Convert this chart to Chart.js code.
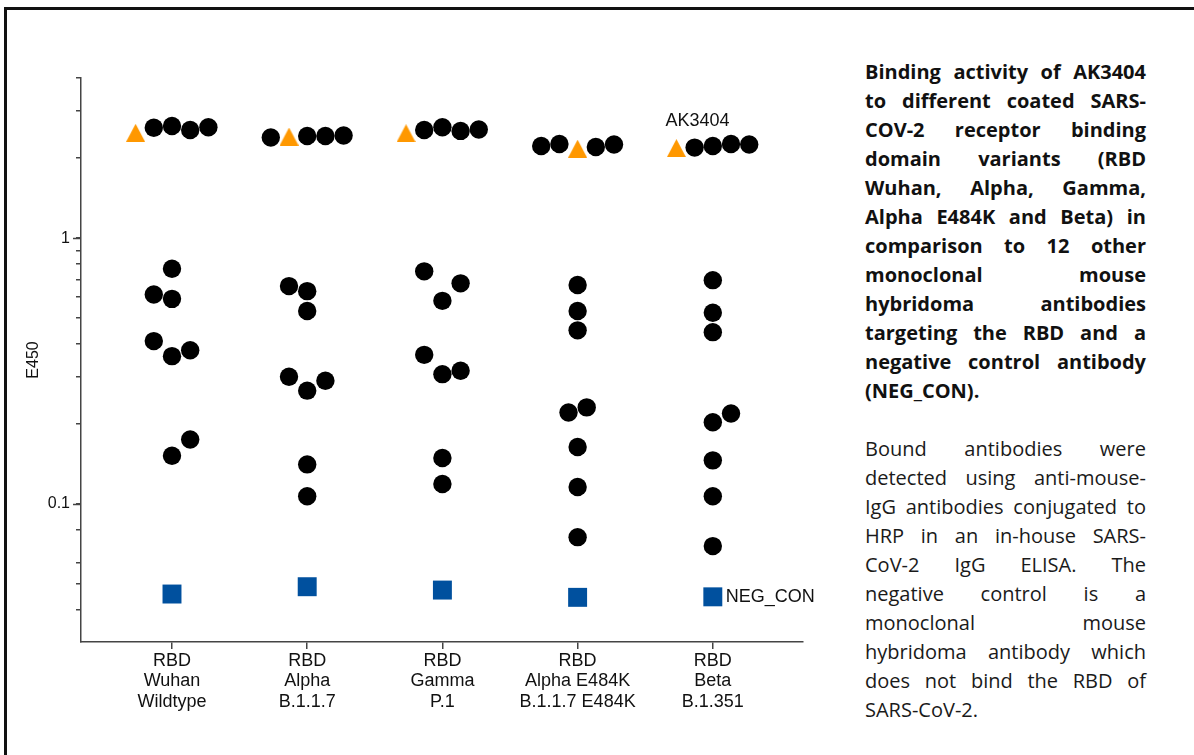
<!DOCTYPE html>
<html>
<head>
<meta charset="utf-8">
<script src="https://cdn.jsdelivr.net/npm/chart.js@4.4.1/dist/chart.umd.min.js"></script>
<style>
  html, body { margin: 0; padding: 0; background: #fff; overflow: hidden; }
  body { width: 1194px; height: 755px; position: relative; }
  #frame {
    position: absolute; left: 4px; top: 7px; right: -20px; bottom: -20px;
    border-top: 3px solid #111; border-left: 3px solid #111;
  }
  #plot { position: absolute; left: 0; top: 0; width: 830px; height: 755px; }
  #caption {
    position: absolute; left: 865px; top: 57px; width: 281px;
    font-family: "Open Sans", sans-serif; font-size: 20px; line-height: 29px;
    color: #111; text-align: justify;
  }
  #caption p { margin: 0; }
  #caption .lead { font-weight: 700; }
  #caption .note { margin-top: 29px; font-weight: 400; color: #1a1a1a; }
  #caption .nw { white-space: nowrap; }
</style>
</head>
<body>
<div id="frame"></div>
<div id="plot"><canvas id="chart" width="830" height="755"></canvas></div>
<div id="caption">
  <p class="lead">Binding activity of AK3404 to different coated SARS-COV-2 receptor binding domain variants (RBD Wuhan, Alpha, Gamma, Alpha E484K and Beta) in comparison to 12 other monoclonal mouse hybridoma antibodies targeting the RBD and a negative control antibody (NEG_CON).</p>
  <p class="note">Bound antibodies were detected using anti-mouse-IgG antibodies conjugated to HRP in an in-house SARS-<span class="nw">CoV-2</span> IgG ELISA. The <span class="nw">negative control</span> is a monoclonal mouse hybridoma antibody which does not bind the RBD of SARS-CoV-2.</p>
</div>
<script>
// categories (multi-line axis labels)
const CATEGORIES = [
  ["RBD", "Wuhan", "Wildtype"],
  ["RBD", "Alpha", "B.1.1.7"],
  ["RBD", "Gamma", "P.1"],
  ["RBD", "Alpha E484K", "B.1.1.7 E484K"],
  ["RBD", "Beta", "B.1.351"],
];

// E450 values
const AK3404   = [2.49, 2.41, 2.48, 2.17, 2.18];
const NEG_CON  = [0.0459, 0.0489, 0.0475, 0.0446, 0.0448];

// 12 other mAbs per RBD variant
const OTHER_WUHAN = [2.60, 2.64, 2.55, 2.61, 0.767, 0.614, 0.591, 0.410, 0.360, 0.379, 0.175, 0.152];
const OTHER_ALPHA = [2.39, 2.42, 2.42, 2.43, 0.660, 0.632, 0.532, 0.301, 0.267, 0.291, 0.141, 0.107];
const OTHER_GAMMA = [2.55, 2.61, 2.53, 2.56, 0.750, 0.676, 0.581, 0.364, 0.308, 0.317, 0.149, 0.119];
const OTHER_E484K = [2.22, 2.26, 2.20, 2.25, 0.666, 0.532, 0.450, 0.221, 0.231, 0.164, 0.116, 0.0751];
const OTHER_BETA  = [2.19, 2.22, 2.26, 2.25, 0.695, 0.524, 0.443, 0.203, 0.219, 0.146, 0.107, 0.0695];
const OTHER = [OTHER_WUHAN, OTHER_ALPHA, OTHER_GAMMA, OTHER_E484K, OTHER_BETA];

// swarm column of each point (in marker widths from the category centre)
const SLOT_AK3404  = [-2, -1, -2, 0, -2];
const SLOT_NEG_CON = [0, 0, 0, 0, 0];
const SLOT_OTHER = [
  [-1, 0, 1, 2,  0, -1, 0, -1, 0, 1, 1, 0],
  [-2, 0, 1, 2, -1,  0, 0, -1, 0, 1, 0, 0],
  [-1, 0, 1, 2, -1,  1, 0, -1, 0, 1, 0, 0],
  [-2, -1, 1, 2, 0,  0, 0, -0.5, 0.5, 0, 0, 0],
  [-1, 0, 1, 2,  0,  0, 0, 0, 1, 0, 0, 0],
];

// y ticks: only 1 and 0.1 are labelled
const Y_TICKS  = [4, 3, 2, 1, 0.9, 0.8, 0.7, 0.6, 0.5, 0.4, 0.3, 0.2, 0.1, 0.08, 0.06, 0.05, 0.04];
const Y_LABELS = { 1: "1", 0.1: "0.1" };

const SWARM_STEP = 0.1346;
const AXIS_COLOR = "#444";
const FONT = "'Liberation Sans', Arial, sans-serif";

const place = (vals, slots, cat) => vals.map((v, j) => ({ x: cat + slots[j] * SWARM_STEP, y: v }));

const otherPoints = OTHER.flatMap((vals, i) => place(vals, SLOT_OTHER[i], i));
const akPoints  = AK3404.map((v, i) => ({ x: i + SLOT_AK3404[i] * SWARM_STEP, y: v }));
const negPoints = NEG_CON.map((v, i) => ({ x: i + SLOT_NEG_CON[i] * SWARM_STEP, y: v }));

function triangleImage(w, h, color) {
  const c = document.createElement("canvas");
  c.width = w; c.height = h;
  const g = c.getContext("2d");
  g.fillStyle = color;
  g.beginPath();
  g.moveTo(w / 2, 0);
  g.lineTo(w, h);
  g.lineTo(0, h);
  g.closePath();
  g.fill();
  return c;
}

// "AK3404" / "NEG_CON" labels next to the last group
const pointLabels = {
  id: "pointLabels",
  afterDatasetsDraw(chart) {
    const ctx = chart.ctx;
    const ak = chart.getDatasetMeta(1).data[4];
    const neg = chart.getDatasetMeta(2).data[4];
    ctx.save();
    ctx.fillStyle = "#111";
    ctx.font = "18px " + FONT;
    ctx.textAlign = "left";
    ctx.textBaseline = "middle";
    ctx.fillText("AK3404", ak.x - 11, ak.y - 27);
    ctx.fillText("NEG_CON", neg.x + 13, neg.y);
    ctx.restore();
  },
};

// longer tick marks for the labelled decades
const majorTicks = {
  id: "majorTicks",
  afterDraw(chart) {
    const y = chart.scales.y;
    const ctx = chart.ctx;
    ctx.save();
    ctx.strokeStyle = AXIS_COLOR;
    ctx.lineWidth = 1.5;
    [1, 0.1].forEach((v) => {
      const py = Math.round(y.getPixelForValue(v)) + 0.5;
      ctx.beginPath();
      ctx.moveTo(y.right - 8, py);
      ctx.lineTo(y.right, py);
      ctx.stroke();
    });
    ctx.restore();
  },
};

new Chart(document.getElementById("chart"), {
  type: "scatter",
  data: {
    datasets: [
      {
        label: "other mAbs",
        data: otherPoints,
        pointStyle: "circle",
        pointRadius: 9.2,
        pointBackgroundColor: "#000",
        pointBorderWidth: 0,
      },
      {
        label: "AK3404",
        data: akPoints,
        pointStyle: triangleImage(19, 18, "#ff9800"),
        pointRadius: 10,
      },
      {
        label: "NEG_CON",
        data: negPoints,
        pointStyle: "rect",
        pointRadius: 13.4,
        pointBackgroundColor: "#00509e",
        pointBorderWidth: 0,
      },
    ],
  },
  options: {
    responsive: false,
    animation: false,
    events: [],
    layout: { padding: { left: 0, top: 78, right: 27, bottom: 0 } },
    plugins: { legend: { display: false }, tooltip: { enabled: false } },
    scales: {
      x: {
        type: "linear",
        min: -0.673,
        max: 4.667,
        afterBuildTicks: (s) => { s.ticks = CATEGORIES.map((_, i) => ({ value: i })); },
        afterFit: (s) => { s.height = 113; },
        ticks: {
          callback: (v) => CATEGORIES[v],
          autoSkip: false,
          maxRotation: 0,
          padding: 2,
          color: "#111",
          font: { family: FONT, size: 18, lineHeight: 1.13 },
        },
        grid: { drawOnChartArea: false, tickLength: 7, color: AXIS_COLOR, lineWidth: 1.5 },
        border: { color: AXIS_COLOR, width: 1.5 },
      },
      y: {
        type: "logarithmic",
        min: 0.0303,
        max: 4.0,
        afterBuildTicks: (s) => { s.ticks = Y_TICKS.map((v) => ({ value: v })); },
        afterFit: (s) => { s.width = 81; },
        ticks: {
          callback: (v) => Y_LABELS[v] || "",
          autoSkip: false,
          padding: 6,
          color: "#111",
          font: { family: FONT, size: 16 },
        },
        grid: { drawOnChartArea: false, tickLength: 5, color: AXIS_COLOR, lineWidth: 1.5 },
        border: { color: AXIS_COLOR, width: 1.5 },
        title: {
          display: true,
          text: "E450",
          color: "#111",
          font: { family: FONT, size: 16 },
          padding: { top: 24, bottom: 0 },
        },
      },
    },
  },
  plugins: [pointLabels, majorTicks],
});
</script>
</body>
</html>
